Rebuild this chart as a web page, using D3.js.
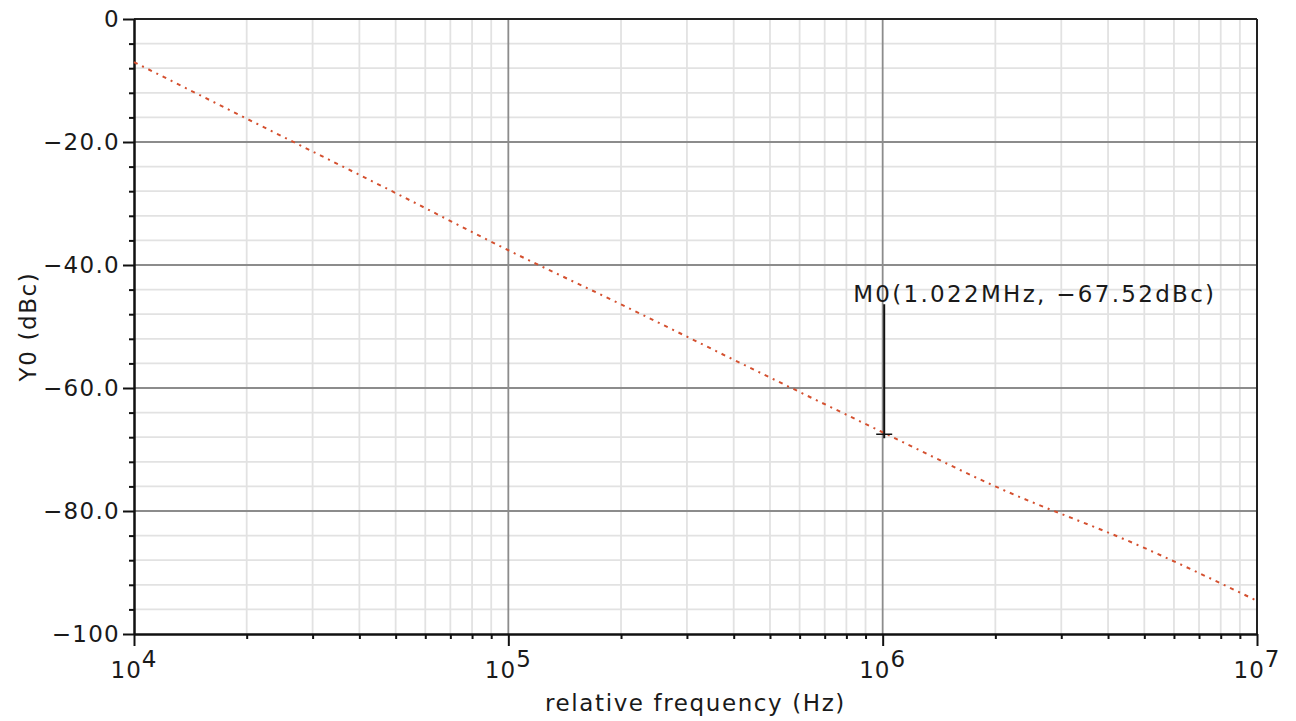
<!DOCTYPE html>
<html>
<head>
<meta charset="utf-8">
<script src="https://cdn.jsdelivr.net/npm/d3@7"></script>
<style>
  body { margin: 0; background: #fff; }
  text { font-family: "DejaVu Sans", sans-serif; fill: #1a1a1a; }
</style>
</head>
<body>
<div id="chart"></div>
<script>
// phase noise curve (Hz, dBc)
var freqs = [1e4, 2e4, 5e4, 1e5, 2e5, 5e5, 1e6, 2e6, 5e6, 1e7];
var levels = [-7.0, -16.2, -28.3, -37.6, -46.4, -58.3, -67.2, -76.0, -86.0, -94.6];
var yTicks = [0, -20, -40, -60, -80, -100];
var yTickLabels = ["0", "\u221220.0", "\u221240.0", "\u221260.0", "\u221280.0", "\u2212100"];
var xDecades = [4, 5, 6, 7];
var marker = {f: 1.022e6, v: -67.52, label: "M0(1.022MHz, \u221267.52dBc)"};

var width = 1296, height = 721,
    margin = {top: 19, right: 39, bottom: 87, left: 134};

var svg = d3.select("#chart").append("svg")
  .attr("width", width)
  .attr("height", height);

var x = d3.scaleLog().domain([1e4, 1e7]).range([margin.left, width - margin.right]);
var y = d3.scaleLinear().domain([-100, 0]).range([height - margin.bottom, margin.top]);

var minorX = [];
xDecades.slice(0, -1).forEach(d => {
  for (var k = 2; k <= 9; k++) minorX.push(k * Math.pow(10, d));
});
var majorX = xDecades.map(d => Math.pow(10, d));
var minorY = d3.range(-100, 0.1, 4).filter(v => v % 20 !== 0);

// grid
var grid = svg.append("g");
grid.selectAll(".gx-minor").data(minorX).enter().append("line")
  .attr("x1", d => x(d)).attr("x2", d => x(d))
  .attr("y1", y(0)).attr("y2", y(-100))
  .style("stroke", "#e2e2e2").style("stroke-width", 1.8);
grid.selectAll(".gy-minor").data(minorY).enter().append("line")
  .attr("x1", x(1e4)).attr("x2", x(1e7))
  .attr("y1", d => y(d)).attr("y2", d => y(d))
  .style("stroke", "#e2e2e2").style("stroke-width", 1.8);
grid.selectAll(".gx-major").data(majorX.slice(1, -1)).enter().append("line")
  .attr("x1", d => x(d)).attr("x2", d => x(d))
  .attr("y1", y(0)).attr("y2", y(-100))
  .style("stroke", "#8c8c8c").style("stroke-width", 1.8);
grid.selectAll(".gy-major").data(yTicks.slice(1, -1)).enter().append("line")
  .attr("x1", x(1e4)).attr("x2", x(1e7))
  .attr("y1", d => y(d)).attr("y2", d => y(d))
  .style("stroke", "#8c8c8c").style("stroke-width", 1.8);

// frame top/right
svg.append("line").attr("x1", x(1e4)).attr("x2", x(1e7)).attr("y1", y(0)).attr("y2", y(0))
  .style("stroke", "#222").style("stroke-width", 2);
svg.append("line").attr("x1", x(1e7)).attr("x2", x(1e7)).attr("y1", y(0)).attr("y2", y(-100))
  .style("stroke", "#222").style("stroke-width", 2);

// axes
function styleAxis(g) {
  g.selectAll("path, line").style("stroke", "#111").style("stroke-width", 2);
}
svg.append("g").attr("transform", `translate(${margin.left},0)`)
  .call(d3.axisLeft(y).tickValues(minorY).tickSize(5).tickFormat("").tickSizeOuter(0))
  .call(styleAxis);
svg.append("g").attr("transform", `translate(${margin.left},0)`)
  .call(d3.axisLeft(y).tickValues(yTicks).tickSize(11).tickPadding(3).tickSizeOuter(0)
    .tickFormat((d, i) => yTickLabels[i]))
  .call(styleAxis)
  .selectAll("text")
  .style("font-size", "23px").style("letter-spacing", "1.3px")
  .style("font-family", "DejaVu Sans").style("fill", "#1a1a1a");

svg.append("g").attr("transform", `translate(0,${height - margin.bottom})`)
  .call(d3.axisBottom(x).tickValues(minorX).tickSize(5).tickFormat("").tickSizeOuter(0))
  .call(styleAxis);
svg.append("g").attr("transform", `translate(0,${height - margin.bottom})`)
  .call(d3.axisBottom(x).tickValues(majorX).tickSize(12).tickFormat("").tickSizeOuter(0))
  .call(styleAxis);

// decade labels with superscripts
var xl = svg.selectAll(".xlab").data(xDecades).enter().append("text")
  .attr("x", d => x(Math.pow(10, d)))
  .attr("y", 678)
  .attr("text-anchor", "middle")
  .style("font-size", "23px").style("letter-spacing", "1px");
xl.append("tspan").text("10");
xl.append("tspan").attr("dy", -11).text(d => d);

// axis titles
svg.append("text")
  .attr("x", (x(1e4) + x(1e7)) / 2)
  .attr("y", 711)
  .attr("text-anchor", "middle")
  .style("font-size", "23px").style("letter-spacing", "1.6px")
  .text("relative frequency (Hz)");

svg.append("text")
  .attr("transform", "rotate(-90)")
  .attr("x", -(y(0) + y(-100)) / 2)
  .attr("y", 36)
  .attr("text-anchor", "middle")
  .style("font-size", "23px").style("letter-spacing", "1.6px")
  .text("Y0 (dBc)");

// curve
var pts = freqs.map((f, i) => [f, levels[i]]);
svg.append("path")
  .datum(pts)
  .attr("d", d3.line().x(d => x(d[0])).y(d => y(d[1])).curve(d3.curveMonotoneX))
  .style("fill", "none")
  .style("stroke", "#d4502f")
  .style("stroke-width", 2)
  .style("stroke-dasharray", "4,5,2,5");

// marker M0
var mx = x(marker.f) - 2, my = y(marker.v);
svg.append("line").attr("x1", mx).attr("x2", mx).attr("y1", my - 130).attr("y2", my + 4)
  .style("stroke", "#111").style("stroke-width", 2);
svg.append("line").attr("x1", mx - 8).attr("x2", mx + 8).attr("y1", my).attr("y2", my)
  .style("stroke", "#111").style("stroke-width", 1.5);
svg.append("text")
  .attr("x", mx - 31)
  .attr("y", my - 132)
  .style("font-size", "23px").style("letter-spacing", "2.3px")
  .text(marker.label);
</script>
</body>
</html>
